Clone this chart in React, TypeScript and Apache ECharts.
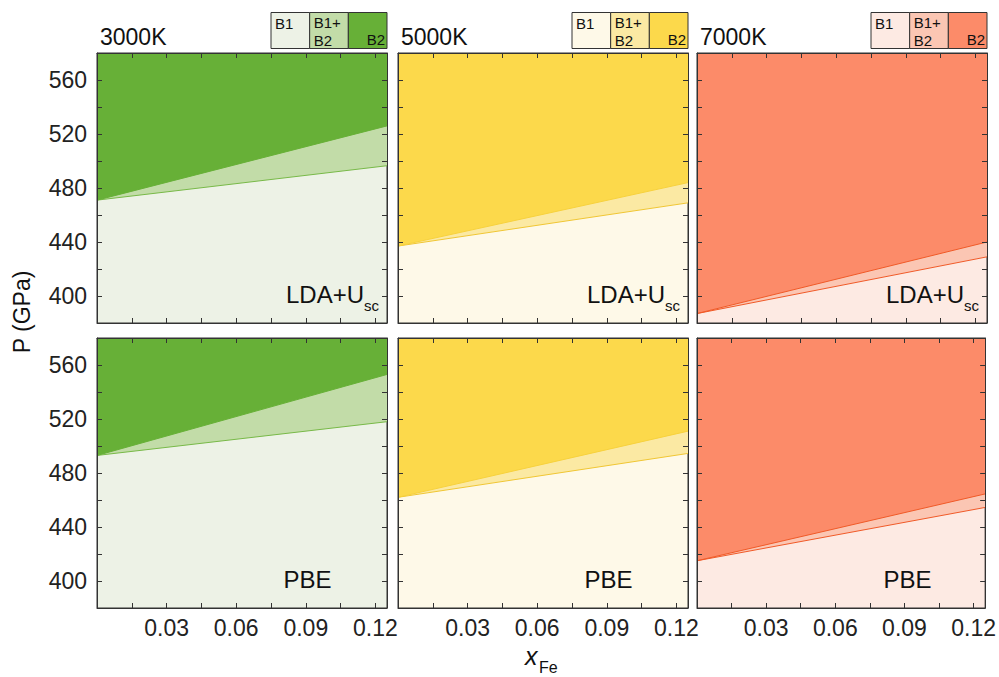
import React, { useEffect, useRef } from "react";
import * as echarts from "echarts";

const temperatures = ["3000K", "5000K", "7000K"];
const methods = ["LDA+U", "PBE"];
const xRange = [0, 0.125];
// boundary pressures (GPa) at x=0 and x=0.125
const ldaStart = [471, 437, 387];
const ldaUpper = [526, 484, 440];
const ldaLower = [496.5, 469, 429];
const pbeStart = [493, 462, 415];
const pbeUpper = [553, 511, 464.5];
const pbeLower = [518, 494.5, 454.5];
const legendLabels = ["B1", "B1+\nB2", "B2"];

const b1Colors = ["#edf2e6", "#fef9e8", "#fdeae3"];
const mixColors = ["#c2dca8", "#fbe9a3", "#fbc6b3"];
const b2Colors = ["#67b037", "#fcd94b", "#fc8b69"];
const lowerLineColors = ["#78b948", "#f0c634", "#f05a28"];
const upperLineColors = ["#67b037", "#f7d13c", "#f05a28"];

const FONT = "Liberation Sans, Arial, sans-serif";
const colLeft = [97, 398, 697];
const panelW = 290;
const rowTop = [53, 338];
const panelH = 270;

export default function App() {
  const ref = useRef<HTMLDivElement>(null);
  useEffect(() => {
    if (!ref.current) return;
    const chart = echarts.init(ref.current, null, { renderer: "svg" });
    const grid: any[] = [];
    const xAxis: any[] = [];
    const yAxis: any[] = [];
    const series: any[] = [];
    const graphic: any[] = [];
    const xFmt = (v: number) => {
      const k = Math.round(v / 0.015);
      if (Math.abs(v - k * 0.015) > 1e-9 || k % 2 !== 0 || k === 0) return "";
      return (k * 0.015).toFixed(2);
    };
    const yFmt = (v: number) => (Math.round(v) % 40 === 0 ? String(Math.round(v)) : "");
    const axisCommon = {
      z: 5,
      axisLine: { show: true, onZero: false, lineStyle: { color: "#333", width: 1 } },
      axisTick: { show: true, inside: true, length: 5, lineStyle: { color: "#333" } },
      splitLine: { show: false },
    };
    let gi = 0;
    for (let r = 0; r < 2; r++) {
      for (let c = 0; c < 3; c++) {
        grid.push({
          left: colLeft[c],
          top: rowTop[r],
          width: panelW,
          height: panelH,
          show: true,
          backgroundColor: b1Colors[c],
          borderColor: "#333",
          borderWidth: 1,
        });
        const xBase = {
          ...axisCommon,
          type: "value",
          gridIndex: gi,
          min: xRange[0],
          max: xRange[1],
          interval: 0.015,
        };
        xAxis.push({
          ...xBase,
          position: "bottom",
          axisLabel: {
            show: r === 1,
            formatter: xFmt,
            fontSize: 23,
            color: "#222",
            fontFamily: FONT,
            margin: 8,
            showMaxLabel: false,
          },
        });
        xAxis.push({ ...xBase, position: "top", axisLabel: { show: false } });
        const yBase = {
          ...axisCommon,
          type: "value",
          gridIndex: gi,
          min: 380,
          max: 580,
          interval: 20,
        };
        yAxis.push({
          ...yBase,
          position: "left",
          axisLabel: {
            show: c === 0,
            formatter: yFmt,
            fontSize: 23,
            color: "#222",
            fontFamily: FONT,
            margin: 10,
          },
        });
        yAxis.push({ ...yBase, position: "right", axisLabel: { show: false } });
        const start = r === 0 ? ldaStart[c] : pbeStart[c];
        const upper = r === 0 ? ldaUpper[c] : pbeUpper[c];
        const lower = r === 0 ? ldaLower[c] : pbeLower[c];
        series.push({
          type: "line",
          xAxisIndex: gi * 2,
          yAxisIndex: gi * 2,
          data: [
            [xRange[0], start],
            [xRange[1], lower],
          ],
          symbol: "none",
          lineStyle: { color: lowerLineColors[c], width: 1 },
          areaStyle: { color: mixColors[c], opacity: 1, origin: "end" },
          silent: true,
        });
        series.push({
          type: "line",
          xAxisIndex: gi * 2,
          yAxisIndex: gi * 2,
          data: [
            [xRange[0], start],
            [xRange[1], upper],
          ],
          symbol: "none",
          lineStyle: { color: upperLineColors[c], width: 1 },
          areaStyle: { color: b2Colors[c], opacity: 1, origin: "end" },
          silent: true,
        });
        // panel label
        const left = colLeft[c];
        const top = rowTop[r];
        if (r === 0) {
          graphic.push({
            type: "text",
            z: 10,
            style: {
              x: left + 267,
              y: top + 241,
              text: methods[0],
              textAlign: "right",
              textVerticalAlign: "middle",
              verticalAlign: "middle",
              fontSize: 24,
              fontFamily: FONT,
              fill: "#111",
            },
          });
          graphic.push({
            type: "text",
            z: 10,
            style: {
              x: left + 267,
              y: top + 252,
              text: "sc",
              textAlign: "left",
              verticalAlign: "middle",
              textVerticalAlign: "middle",
              fontSize: 15,
              fontFamily: FONT,
              fill: "#111",
            },
          });
        } else {
          graphic.push({
            type: "text",
            z: 10,
            style: {
              x: left + 210.5,
              y: top + 241,
              text: methods[1],
              textAlign: "center",
              verticalAlign: "middle",
              textVerticalAlign: "middle",
              fontSize: 24,
              fontFamily: FONT,
              fill: "#111",
            },
          });
        }
        gi++;
      }
    }
    // titles & legends
    for (let c = 0; c < 3; c++) {
      graphic.push({
        type: "text",
        style: {
          x: colLeft[c] + 3,
          y: 37,
          text: temperatures[c],
          textAlign: "left",
          verticalAlign: "middle",
          textVerticalAlign: "middle",
          fontSize: 23,
          fontFamily: FONT,
          fill: "#111",
        },
      });
      const right = colLeft[c] + panelW;
      const lx = right - 116;
      const cellW = 116 / 3;
      const cellColors = [b1Colors[c], mixColors[c], b2Colors[c]];
      for (let k = 0; k < 3; k++) {
        graphic.push({
          type: "rect",
          shape: { x: lx + k * cellW, y: 12.5, width: cellW, height: 36 },
          style: { fill: cellColors[k], stroke: "#333", lineWidth: 1 },
        });
      }
      graphic.push({
        type: "text",
        style: { x: lx + 4, y: 14, text: legendLabels[0], fontSize: 15, lineHeight: 18, fontFamily: FONT, fill: "#111", verticalAlign: "top", textVerticalAlign: "top" },
      });
      graphic.push({
        type: "text",
        style: { x: lx + cellW + 4, y: 13, text: legendLabels[1], fontSize: 15, lineHeight: 18, fontFamily: FONT, fill: "#111", verticalAlign: "top", textVerticalAlign: "top" },
      });
      graphic.push({
        type: "text",
        style: { x: right - 2, y: 39.5, text: legendLabels[2], fontSize: 15, fontFamily: FONT, fill: "#111", textAlign: "right", verticalAlign: "middle", textVerticalAlign: "middle" },
      });
    }
    graphic.push({
      type: "text",
      rotation: Math.PI / 2,
      x: 22,
      y: 312,
      style: {
        x: 0,
        y: 0,
        text: "P (GPa)",
        textAlign: "center",
        verticalAlign: "middle",
        textVerticalAlign: "middle",
        fontSize: 23,
        fontFamily: FONT,
        fill: "#111",
      },
    });
    graphic.push({
      type: "text",
      style: { x: 525, y: 656, text: "x", fontSize: 25, fontStyle: "italic", fontFamily: FONT, fill: "#111", verticalAlign: "middle", textVerticalAlign: "middle" },
    });
    graphic.push({
      type: "text",
      style: { x: 539, y: 667, text: "Fe", fontSize: 16, fontFamily: FONT, fill: "#111", verticalAlign: "middle", textVerticalAlign: "middle" },
    });

    chart.setOption({
      animation: false,
      backgroundColor: "#fff",
      grid,
      xAxis,
      yAxis,
      series,
      graphic,
    });
    return () => chart.dispose();
  }, []);
  return (
    <div
      ref={ref}
      style={{ position: "fixed", left: 0, top: 0, width: 999, height: 677 }}
    />
  );
}
